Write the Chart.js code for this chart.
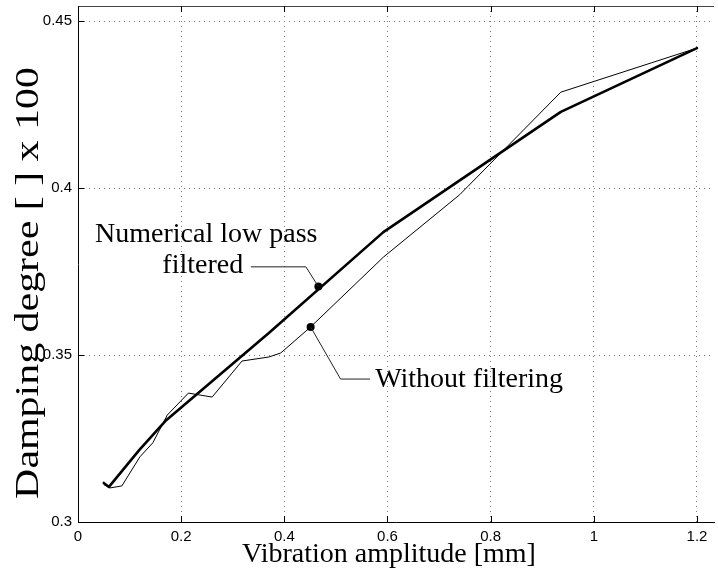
<!DOCTYPE html>
<html><head><meta charset="utf-8">
<script src="https://cdn.jsdelivr.net/npm/chart.js@4/dist/chart.umd.min.js"></script>
<style>html,body{margin:0;padding:0;background:#fff;overflow:hidden;} #wrap{width:718px;height:574px;}</style>
</head><body><div id="wrap"><canvas id="c" width="718" height="574"></canvas></div>
<script>
// ---- data ----
const xFiltered = [0.05, 0.06, 0.119, 0.171, 0.37, 0.592, 0.936, 1.2];
const yFiltered = [0.3117, 0.3105, 0.3216, 0.3305, 0.3566, 0.3868, 0.4228, 0.4419];

const xRaw = [0.05, 0.062, 0.085, 0.12, 0.145, 0.173, 0.214, 0.26, 0.318, 0.37, 0.393, 0.451, 0.592, 0.74, 0.936, 1.2];
const yRaw = [0.3112, 0.3102, 0.3108, 0.3195, 0.3237, 0.332, 0.3386, 0.3374, 0.3482, 0.3494, 0.3506, 0.3584, 0.3793, 0.398, 0.4287, 0.4419];

const xTicks = [0, 0.2, 0.4, 0.6, 0.8, 1, 1.2];
const xTickLabels = ['0', '0.2', '0.4', '0.6', '0.8', '1', '1.2'];
const yTicks = [0.3, 0.35, 0.4, 0.45];
const yTickLabels = ['0.3', '0.35', '0.4', '0.45'];

const xTitle = 'Vibration amplitude [mm]';
const yTitle = 'Damping degree [ ] x 100';

// annotation markers and leaders (data coordinates)
const markFiltered = {x: 0.466, y: 0.3705};
const markRaw = {x: 0.451, y: 0.3584};
const leaderFilteredX = [0.335, 0.4418, 0.466];
const leaderFilteredY = [0.3764, 0.3764, 0.3705];
const leaderRawX = [0.451, 0.509, 0.566];
const leaderRawY = [0.3584, 0.3428, 0.3428];
const labelFiltered1 = {text: 'Numerical low pass', x: 0.2486, y: 0.3838};
const labelFiltered2 = {text: 'filtered', x: 0.2418, y: 0.3746};
const labelRaw = {text: 'Without filtering', x: 0.5761, y: 0.3404};

const toPts = (xs, ys) => xs.map((x, i) => ({x: x, y: ys[i]}));

const SERIF = '"Liberation Serif", "Times New Roman", serif';
const SANS = '"Liberation Sans", Arial, sans-serif';

const decor = {
  id: 'decor',
  afterDraw(chart) {
    const {ctx, chartArea: a, scales: {x, y}} = chart;
    ctx.save();
    // top frame
    ctx.strokeStyle = '#444';
    ctx.lineWidth = 1;
    ctx.beginPath();
    ctx.moveTo(a.left, a.top + 0.5);
    ctx.lineTo(a.right, a.top + 0.5);
    ctx.stroke();
    // inward ticks
    ctx.strokeStyle = '#000';
    ctx.beginPath();
    xTicks.forEach(v => {
      const px = Math.round(x.getPixelForValue(v)) + 0.5;
      ctx.moveTo(px, a.bottom); ctx.lineTo(px, a.bottom - 6);
      ctx.moveTo(px, a.top); ctx.lineTo(px, a.top + 6);
    });
    yTicks.forEach(v => {
      const py = Math.round(y.getPixelForValue(v)) + 0.5;
      ctx.moveTo(a.left, py); ctx.lineTo(a.left + 6, py);
    });
    ctx.stroke();
    // annotation text
    ctx.fillStyle = '#000';
    ctx.font = '28px ' + SERIF;
    ctx.textBaseline = 'alphabetic';
    ctx.textAlign = 'center';
    [labelFiltered1, labelFiltered2].forEach(l => {
      ctx.fillText(l.text, x.getPixelForValue(l.x), y.getPixelForValue(l.y));
    });
    ctx.textAlign = 'left';
    ctx.fillText(labelRaw.text, x.getPixelForValue(labelRaw.x), y.getPixelForValue(labelRaw.y));
    // axis titles
    ctx.textAlign = 'center';
    ctx.fillText(xTitle, 389, 562);
    ctx.font = '33px ' + SERIF;
    ctx.translate(38, 283);
    ctx.rotate(-Math.PI / 2);
    ctx.scale(1.27, 1);
    ctx.fillText(yTitle, 0, 0);
    ctx.restore();
  }
};

new Chart(document.getElementById('c'), {
  type: 'scatter',
  data: {
    datasets: [
      {label: 'Numerical low pass filtered', data: toPts(xFiltered, yFiltered), showLine: true,
       borderColor: '#000', borderWidth: 2.6, pointRadius: 0, tension: 0, borderJoinStyle: 'round', borderCapStyle: 'round'},
      {label: 'Without filtering', data: toPts(xRaw, yRaw), showLine: true,
       borderColor: '#000', borderWidth: 1, pointRadius: 0, tension: 0},
      {label: 'leader1', data: toPts(leaderFilteredX, leaderFilteredY), showLine: true,
       borderColor: '#222', borderWidth: 1, pointRadius: 0, tension: 0},
      {label: 'leader2', data: toPts(leaderRawX, leaderRawY), showLine: true,
       borderColor: '#222', borderWidth: 1, pointRadius: 0, tension: 0},
      {label: 'marks', data: [markFiltered, markRaw], showLine: false,
       pointRadius: 4, backgroundColor: '#000', borderColor: '#000', borderWidth: 0}
    ]
  },
  options: {
    responsive: false,
    devicePixelRatio: 1,
    animation: false,
    layout: {padding: {top: 6, right: 0, left: 0, bottom: 0}},
    plugins: {legend: {display: false}, tooltip: {enabled: false}},
    scales: {
      x: {
        type: 'linear', min: 0, max: 1.233,
        afterBuildTicks: s => { s.ticks = xTicks.map(v => ({value: v})); },
        afterFit: s => { s.height = 52; s.paddingLeft = 0; s.paddingRight = 0; },
        ticks: {color: '#000', font: {family: SANS, size: 15}, padding: 6,
                callback: (v, i) => xTickLabels[i], maxRotation: 0, autoSkip: false},
        grid: {color: '#777', lineWidth: 1, drawTicks: false},
        border: {display: true, color: '#000', width: 1, dash: [1, 4]}
      },
      y: {
        type: 'linear', min: 0.3, max: 0.4545,
        afterBuildTicks: s => { s.ticks = yTicks.map(v => ({value: v})); },
        afterFit: s => { s.width = 78; s.paddingTop = 0; s.paddingBottom = 0; },
        ticks: {color: '#000', font: {family: SANS, size: 15}, padding: 6,
                callback: (v, i) => yTickLabels[i], autoSkip: false},
        grid: {color: '#777', lineWidth: 1, drawTicks: false},
        border: {display: true, color: '#000', width: 1, dash: [1, 4]}
      }
    }
  },
  plugins: [decor]
});
</script>
</body></html>
